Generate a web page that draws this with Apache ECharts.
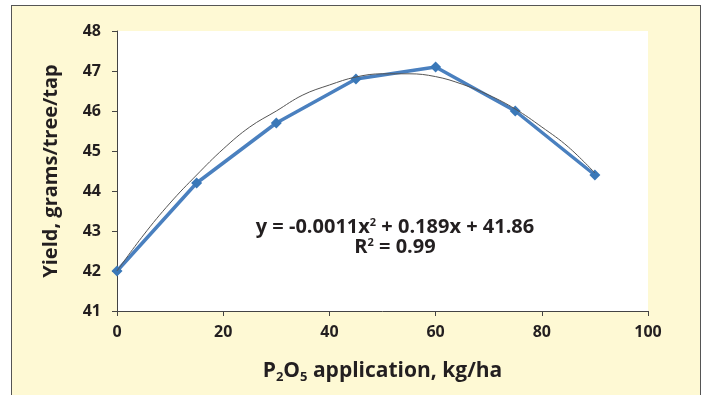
<!DOCTYPE html>
<html>
<head>
<meta charset="utf-8">
<script src="https://cdn.jsdelivr.net/npm/echarts@6/dist/echarts.min.js"></script>
<style>
  html, body { margin: 0; padding: 0; background: #fff; }
  #frame {
    position: absolute; left: 11px; top: 5px; width: 690px; height: 400px;
    background: #fef9d4; border: 1.5px solid #555; box-sizing: border-box;
  }
  #chart { position: absolute; left: 0; top: 0; width: 707px; height: 395px; }
</style>
</head>
<body>
<div id="frame"></div>
<div id="chart"></div>
<script>
// P2O5 rate (kg/ha) and measured yield
const rates = [0, 15, 30, 45, 60, 75, 90];
const yields = [42.0, 44.2, 45.7, 46.8, 47.1, 46.0, 44.4];

// fitted curve
const trendX = [0, 5, 10, 15, 20, 25, 30, 35, 40, 45, 50, 55, 60, 65, 70, 75, 80, 85, 90];
const trendY = [42.0, 42.9, 43.7, 44.4, 45.05, 45.6, 46.0, 46.4, 46.65, 46.85, 46.93, 46.93,
                46.86, 46.67, 46.4, 46.05, 45.6, 45.1, 44.45];

const xTicks = [0, 20, 40, 60, 80, 100];
const yTicks = [41, 42, 43, 44, 45, 46, 47, 48];

const font = '"Open Sans", "Noto Sans", sans-serif';
const ink = '#231f20';

const chart = echarts.init(document.getElementById('chart'), null, {renderer: 'canvas'});
chart.setOption({
  backgroundColor: 'transparent',
  animation: false,
  grid: {
    left: 117, right: 59, top: 31, bottom: 84,
    show: true, backgroundColor: '#fff', borderWidth: 0
  },
  xAxis: {
    type: 'value',
    min: xTicks[0], max: xTicks[xTicks.length - 1], interval: 20,
    name: '{n|P}{s|2}{n|O}{s|5}{n| application, kg/ha}',
    nameLocation: 'middle', nameGap: 47,
    nameTextStyle: {
      rich: {
        n: {fontFamily: font, fontSize: 21, fontWeight: 'bold', color: ink},
        s: {fontFamily: font, fontSize: 13, fontWeight: 'bold', color: ink, padding: [13, 0, 0, 0]}
      }
    },
    axisLine: {lineStyle: {color: '#444', width: 1}},
    axisTick: {show: true, inside: false, length: 5, lineStyle: {color: '#444'}},
    axisLabel: {fontFamily: font, fontSize: 16, fontWeight: 'bold', color: ink, margin: 13},
    splitLine: {show: false}
  },
  yAxis: {
    type: 'value',
    min: yTicks[0], max: yTicks[yTicks.length - 1], interval: 1,
    name: 'Yield, grams/tree/tap',
    nameLocation: 'middle', nameGap: 56,
    nameTextStyle: {fontFamily: font, fontSize: 20, fontWeight: 'bold', color: ink},
    axisLine: {show: true, lineStyle: {color: '#444', width: 1}},
    axisTick: {show: true, inside: false, length: 5, lineStyle: {color: '#444'}},
    axisLabel: {fontFamily: font, fontSize: 16, fontWeight: 'bold', color: ink, margin: 16},
    splitLine: {show: false}
  },
  title: {
    text: '{t|y = -0.0011x}{p|2}{t| + 0.189x + 41.86}\n{t|R}{p|2}{t| = 0.99}',
    left: 390, top: 212, textAlign: 'center',
    textStyle: {
      rich: {
        t: {fontFamily: font, fontSize: 20, fontWeight: 'bold', color: ink, lineHeight: 20},
        p: {fontFamily: font, fontSize: 11, fontWeight: 'bold', color: ink, padding: [0, 0, 9, 0], lineHeight: 20}
      }
    }
  },
  series: [
    {
      name: 'Yield',
      type: 'line',
      data: rates.map((x, i) => [x, yields[i]]),
      symbol: 'diamond', symbolSize: 11,
      itemStyle: {color: '#3a78b8'},
      lineStyle: {color: '#4a80bf', width: 3.5},
      z: 2
    },
    {
      name: 'Trend',
      type: 'line',
      data: trendX.map((x, i) => [x, trendY[i]]),
      smooth: 0.4, symbol: 'none',
      lineStyle: {color: '#555', width: 1},
      z: 3
    }
  ]
});
</script>
</body>
</html>
